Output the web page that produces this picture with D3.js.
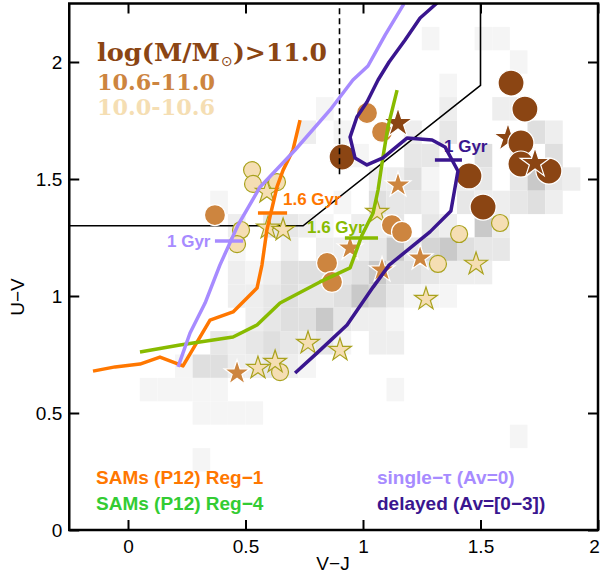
<!DOCTYPE html>
<html>
<head>
<meta charset="utf-8">
<script src="https://cdn.jsdelivr.net/npm/d3@7"></script>
<style>
body { margin: 0; background: #fff; }
text { font-family: "Liberation Sans", Arial, sans-serif; }
</style>
</head>
<body>
<svg width="600" height="576"></svg>
<script>
// ---- data ----
var xTicks = [0, 0.5, 1, 1.5, 2];
var yTicks = [0, 0.5, 1, 1.5, 2];

// background density: rows from U-V 2.05-2.15 (top) down to 0.05-0.15, 30 columns of 0.075 in V-J from -0.25
var densityRows = [
    '000000000000000000001001100000',
    '000000000000000000000000010000',
    '000000000000000000000100000000',
    '000000000000001000000200220000',
    '000000000000020100020300004200',
    '000000000000000010033004020400',
    '000000000000000002241023036320',
    '000000001000000104332032234200',
    '000000000203321022303206200000',
    '000000000100202223635643300000',
    '000000000212444346443222000000',
    '000000000223433465311100000000',
    '000000000023446322100000000000',
    '000000003234323102200000000000',
    '000000144223210000000000000000',
    '000011111000000000100000000000',
    '000000011110000000000000000000',
    '000000000000000000000000010000',
    '000000010000000000000000000000',
    '000000000000000000000000000000',
    '000000000000000000000000000000'
];
var densityGrays = ['none', '#f5f5f5', '#eeeeee', '#e7e7e7', '#dfdfdf', '#d5d5d5', '#c9c9c9'];

// model tracks (V-J, U-V)
var reg1V = [-0.149, -0.055, 0.051, 0.136, 0.234, 0.349, 0.447, 0.549, 0.570, 0.591, 0.634, 0.660, 0.702, 0.732];
var reg1U = [0.679, 0.697, 0.709, 0.739, 0.701, 0.897, 0.932, 1.034, 1.132, 1.282, 1.466, 1.538, 1.624, 1.752];
var reg4V = [0.051, 0.221, 0.447, 0.549, 0.647, 0.817, 0.945, 0.996, 1.043, 1.064, 1.085, 1.106, 1.145];
var reg4U = [0.761, 0.791, 0.825, 0.876, 0.970, 1.060, 1.120, 1.261, 1.355, 1.453, 1.594, 1.722, 1.880];
var tauV = [0.213, 0.264, 0.328, 0.391, 0.468, 0.562, 0.711, 0.860, 0.957, 1.021, 1.094, 1.174];
var tauU = [0.697, 0.842, 0.970, 1.132, 1.303, 1.466, 1.624, 1.795, 1.923, 1.983, 2.115, 2.248];
var delayedV = [0.711, 0.804, 0.932, 1.043, 1.111, 1.285, 1.374, 1.404, 1.349, 1.294, 1.187, 1.085, 1.017, 0.966, 0.945, 0.974, 1.017, 1.064, 1.111, 1.179, 1.243, 1.315];
var delayedU = [0.671, 0.756, 0.876, 1.038, 1.132, 1.274, 1.363, 1.534, 1.637, 1.667, 1.675, 1.590, 1.560, 1.590, 1.679, 1.765, 1.829, 1.923, 2.0, 2.094, 2.188, 2.252];

// age marks on the tracks: [V-J from, V-J to, U-V]
var reg1Mark = [0.553, 0.677, 1.355];
var reg4Mark = [0.923, 1.064, 1.248];
var tauMark = [0.37, 0.49, 1.235];
var delayedMark = [1.306, 1.421, 1.581];

// quiescent selection box and the dashed V-J cut
var boxV = [-0.25, 0.745, 1.5, 1.5];
var boxU = [1.3, 1.3, 1.90, 2.25];
var cutV = 0.9;
var cutU = [1.52, 2.25];

// galaxies [V-J, U-V]
var lowCircles = [[0.528, 1.538], [0.532, 1.479], [0.634, 1.487], [0.481, 1.282], [0.464, 1.222], [0.647, 0.675], [1.583, 1.312], [1.409, 1.265], [1.319, 1.137]];
var lowStars = [[0.591, 1.444], [0.596, 1.291], [0.660, 1.282], [1.060, 1.359], [0.766, 0.799], [0.902, 0.769], [0.553, 0.692], [0.626, 0.718], [1.481, 1.137], [1.268, 0.987]];
var midCircles = [[0.370, 1.346], [1.017, 1.782], [1.081, 1.701], [1.123, 1.303], [1.166, 1.274], [0.847, 1.141], [0.868, 1.060]];
var midStars = [[1.149, 1.474], [0.945, 1.205], [1.081, 1.111], [1.243, 1.162], [0.464, 0.671]];
var highCircles = [[0.911, 1.594], [1.630, 1.910], [1.689, 1.799], [1.672, 1.654], [1.672, 1.564], [1.791, 1.534], [1.451, 1.513], [1.511, 1.380]];
var highStarsBehind = [[1.617, 1.675]];
var highStars = [[1.149, 1.739], [1.732, 1.568]];

// ---- layout ----
var svg = d3.select('svg');
var plot = {l: 69.25, r: 598, t: 3.5, b: 530};

var xScale = d3.scaleLinear().domain([-0.25, 2]).range([plot.l, plot.r]);
var yScale = d3.scaleLinear().domain([0, 2.25]).range([plot.b, plot.t]);

svg.append('defs').append('clipPath').attr('id', 'clip')
    .append('rect')
    .attr('x', plot.l).attr('y', plot.t)
    .attr('width', plot.r - plot.l).attr('height', plot.b - plot.t);

var chartG = svg.append('g').attr('clip-path', 'url(#clip)');

// density cells
var cells = [];
densityRows.forEach(function(row, r) {
    var j = 20 - r;
    row.split('').forEach(function(ch, i) {
        if (+ch > 0) cells.push({i: i, j: j, level: +ch});
    });
});

chartG.selectAll('.cell')
    .data(cells)
    .enter().append('rect')
    .attr('class', 'cell')
    .attr('x', function(d) { return xScale(-0.25 + 0.075 * d.i); })
    .attr('y', function(d) { return yScale(0.15 + 0.1 * d.j); })
    .attr('width', function(d) { return xScale(-0.175 + 0.075 * d.i) - xScale(-0.25 + 0.075 * d.i); })
    .attr('height', function(d) { return yScale(0.05 + 0.1 * d.j) - yScale(0.15 + 0.1 * d.j); })
    .attr('fill', function(d) { return densityGrays[d.level]; });

// selection box
var line = d3.line()
    .x(function(d) { return xScale(d[0]); })
    .y(function(d) { return yScale(d[1]); });

function zipPts(vs, us) {
    return vs.map(function(v, k) { return [v, us[k]]; });
}

chartG.append('path')
    .attr('d', line(zipPts(boxV, boxU)))
    .attr('fill', 'none')
    .attr('stroke', '#000')
    .attr('stroke-width', 1.6);

// galaxies
var circleColors = {
    low: {fill: '#f5deb3', stroke: '#a9a21e'},
    mid: {fill: '#cd853f', stroke: '#fff'},
    high: {fill: '#8b4513', stroke: '#fff'}
};

function drawCircles(pts, r, c) {
    chartG.append('g').selectAll('circle')
        .data(pts)
        .enter().append('circle')
        .attr('cx', function(d) { return xScale(d[0]); })
        .attr('cy', function(d) { return yScale(d[1]); })
        .attr('r', r)
        .attr('fill', c.fill)
        .attr('stroke', c.stroke)
        .attr('stroke-width', 1.2);
}

function drawStars(pts, R, c) {
    var star = d3.symbol().type(d3.symbolStar).size(R * R / 0.8908);
    chartG.append('g').selectAll('path')
        .data(pts)
        .enter().append('path')
        .attr('d', star)
        .attr('transform', function(d) { return 'translate(' + [xScale(d[0]), yScale(d[1])] + ')'; })
        .attr('fill', c.fill)
        .attr('stroke', c.stroke)
        .attr('stroke-width', 1.2);
}

drawCircles(lowCircles, 8.5, circleColors.low);
drawStars(lowStars, 12, circleColors.low);
drawCircles(midCircles, 10.5, circleColors.mid);
drawStars(midStars, 13.5, circleColors.mid);
drawStars(highStarsBehind, 15, circleColors.high);
drawCircles(highCircles, 13, circleColors.high);
drawStars(highStars, 15.5, circleColors.high);

// dashed cut
chartG.append('line')
    .attr('x1', xScale(cutV)).attr('x2', xScale(cutV))
    .attr('y1', yScale(cutU[0])).attr('y2', yScale(cutU[1]))
    .attr('stroke', '#000')
    .attr('stroke-width', 1.6)
    .attr('stroke-dasharray', '6,4');

// model tracks
var tracks = [
    {v: reg1V, u: reg1U, mark: reg1Mark, color: '#ff7700'},
    {v: reg4V, u: reg4U, mark: reg4Mark, color: '#88bb00'},
    {v: tauV, u: tauU, mark: tauMark, color: '#a78bff'},
    {v: delayedV, u: delayedU, mark: delayedMark, color: '#3a168f'}
];

tracks.forEach(function(t) {
    chartG.append('path')
        .attr('d', line(zipPts(t.v, t.u)))
        .attr('fill', 'none')
        .attr('stroke', t.color)
        .attr('stroke-width', 3.5)
        .attr('stroke-linejoin', 'round');
    chartG.append('line')
        .attr('x1', xScale(t.mark[0])).attr('x2', xScale(t.mark[1]))
        .attr('y1', yScale(t.mark[2])).attr('y2', yScale(t.mark[2]))
        .attr('stroke', t.color)
        .attr('stroke-width', 3.5);
});

// age labels
var ageLabels = [
    {text: '1.6 Gyr', x: 283, y: 205, color: '#ff7700'},
    {text: '1.6 Gyr', x: 307, y: 233, color: '#88bb00'},
    {text: '1 Gyr', x: 167, y: 247, color: '#a78bff'},
    {text: '1 Gyr', x: 444, y: 152, color: '#3a168f'}
];
svg.selectAll('.age')
    .data(ageLabels)
    .enter().append('text')
    .attr('class', 'age')
    .attr('x', function(d) { return d.x; })
    .attr('y', function(d) { return d.y; })
    .attr('fill', function(d) { return d.color; })
    .style('font-size', '17px')
    .style('font-weight', 'bold')
    .text(function(d) { return d.text; });

// mass legend (serif)
function serifText(str, x, y, size, color, width) {
    var t = svg.append('text')
        .attr('x', x).attr('y', y)
        .attr('fill', color)
        .style('font-family', '"DejaVu Serif", "Liberation Serif", serif')
        .style('font-weight', 'bold')
        .style('font-size', size + 'px')
        .text(str);
    if (width) t.attr('textLength', width).attr('lengthAdjust', 'spacingAndGlyphs');
    return t;
}
serifText('log(M/M', 97, 61, 24, '#8b4513', 123);
svg.append('text')
    .attr('x', 221).attr('y', 66)
    .attr('fill', '#8b4513')
    .style('font-family', '"DejaVu Sans", sans-serif')
    .style('font-size', '14px')
    .text('\u2299');
serifText(')>11.0', 233, 61, 24, '#8b4513', 94);
serifText('10.6-11.0', 97, 90, 22, '#cd853f', 118);
serifText('10.0-10.6', 97, 115, 22, '#f5deb3', 118);

// model legend
var modelLegend = [
    {text: 'SAMs (P12) Reg\u22121', x: 96, y: 484, color: '#ff7700'},
    {text: 'SAMs (P12) Reg\u22124', x: 96, y: 510, color: '#33cc33'},
    {text: 'single\u2212\u03c4 (Av=0)', x: 377, y: 484, color: '#a78bff'},
    {text: 'delayed (Av=[0\u22123])', x: 377, y: 510, color: '#3a168f'}
];
svg.selectAll('.leg')
    .data(modelLegend)
    .enter().append('text')
    .attr('class', 'leg')
    .attr('x', function(d) { return d.x; })
    .attr('y', function(d) { return d.y; })
    .attr('fill', function(d) { return d.color; })
    .style('font-size', '19px')
    .style('font-weight', 'bold')
    .text(function(d) { return d.text; });

// axes, ticks pointing inward
function fmt(d) { return String(d); }

var axes = [
    {axis: d3.axisBottom(xScale).tickValues(xTicks).tickFormat(fmt), tr: [0, plot.b], pad: 10},
    {axis: d3.axisTop(xScale).tickValues(xTicks).tickFormat(''), tr: [0, plot.t], pad: 0},
    {axis: d3.axisLeft(yScale).tickValues(yTicks).tickFormat(fmt), tr: [plot.l, 0], pad: 7},
    {axis: d3.axisRight(yScale).tickValues(yTicks).tickFormat(''), tr: [plot.r, 0], pad: 0}
];
axes.forEach(function(a, k) {
    var g = svg.append('g')
        .attr('transform', 'translate(' + a.tr + ')')
        .call(a.axis.tickSizeInner(-10).tickSizeOuter(0).tickPadding(a.pad));
    g.select('.domain').remove();
    g.selectAll('line').attr('stroke', '#000').attr('stroke-width', 2);
    g.selectAll('text')
        .attr('fill', '#000')
        .style('font-family', '"Liberation Sans", Arial, sans-serif')
        .style('font-size', '19px');
    // keep the last bottom label inside the window
    if (k === 0) {
        g.selectAll('text').filter(function(d) { return d === 2; }).attr('dx', '-4');
    }
});

svg.append('rect')
    .attr('x', plot.l).attr('y', plot.t)
    .attr('width', plot.r - plot.l).attr('height', plot.b - plot.t)
    .attr('fill', 'none')
    .attr('stroke', '#000')
    .attr('stroke-width', 2.5);

// axis titles
svg.append('text')
    .attr('x', 333).attr('y', 570)
    .attr('text-anchor', 'middle')
    .style('font-size', '19px')
    .text('V\u2212J');

svg.append('text')
    .attr('transform', 'translate(24,297) rotate(-90)')
    .attr('text-anchor', 'middle')
    .style('font-size', '19px')
    .text('U\u2212V');
</script>
</body>
</html>
